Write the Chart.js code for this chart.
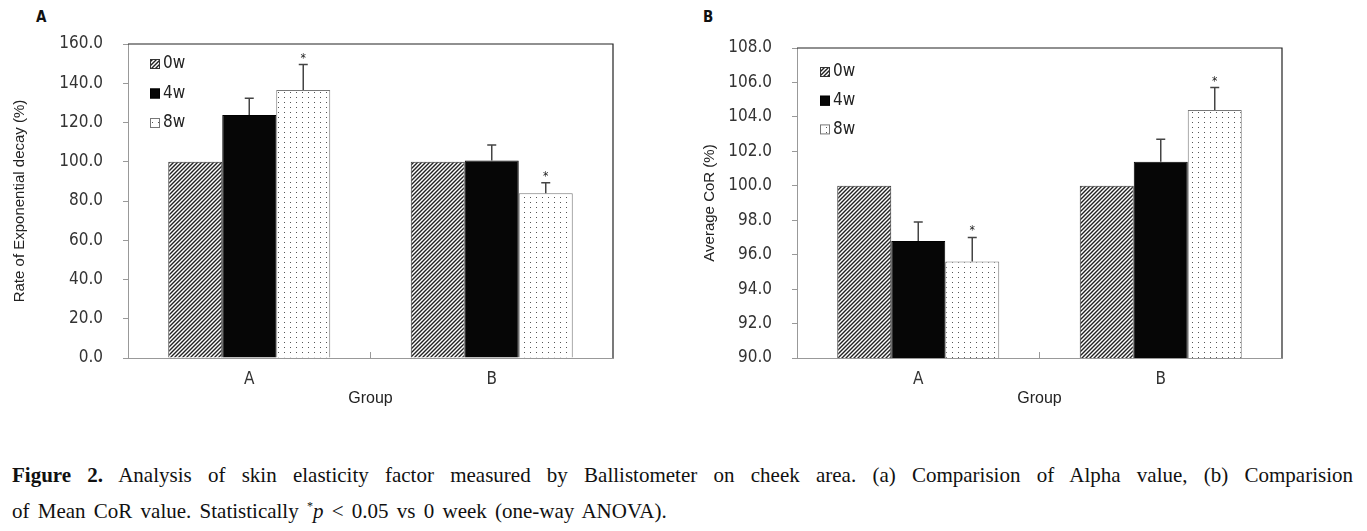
<!DOCTYPE html>
<html>
<head>
<meta charset="utf-8">
<title>Figure 2</title>
<script src="https://cdn.jsdelivr.net/npm/chart.js@4.4.1/dist/chart.umd.min.js"></script>
<style>
	body { margin: 0; background: #fff; width: 1367px; height: 531px; position: relative; overflow: hidden; }
	canvas { position: absolute; top: 0; }
	#chartA { left: 0; }
	#chartB { left: 680px; }
	.panel { position: absolute; top: 8px; font: bold 15px "DejaVu Sans Condensed", "DejaVu Sans", sans-serif; color: #111; }
	.caption { position: absolute; left: 12px; width: 1341px; font-family: "Liberation Serif", "Times New Roman", serif; font-size: 21px; color: #111; white-space: nowrap; }
	.line1 { top: 463px; text-align: justify; text-align-last: justify; white-space: normal; }
	.line2 { top: 499px; word-spacing: 3px; }
</style>
</head>
<body>
<div class="panel" style="left:36px">A</div>
<div class="panel" style="left:703px">B</div>
<canvas id="chartA" width="640" height="420"></canvas>
<canvas id="chartB" width="687" height="420"></canvas>
<div class="caption line1"><b>Figure 2.</b> Analysis of skin elasticity factor measured by Ballistometer on cheek area. (a) Comparision of Alpha value, (b) Comparision</div>
<div class="caption line2">of Mean CoR value. Statistically <sup style="font-size:12px">*</sup><i>p</i> &lt; 0.05 vs 0 week (one-way ANOVA).</div>

<script>
//	Data
var groups = ['A', 'B'];
var weekLabels = ['0w', '4w', '8w'];

// panel A : rate of exponential decay (%)
var decay0w = [100.0, 100.0];
var decay4w = [123.8, 100.7];
var decay8w = [136.6, 83.9];
var decayErr0w = [0, 0];
var decayErr4w = [8.5, 7.8];
var decayErr8w = [12.9, 5.4];
var decayStar8w = [true, true];
var decayTicks = { min: 0, max: 160, step: 20 };

// panel B : average CoR (%)
var cor0w = [100.0, 100.0];
var cor4w = [96.8, 101.4];
var cor8w = [95.6, 104.4];
var corErr0w = [0, 0];
var corErr4w = [1.1, 1.3];
var corErr8w = [1.4, 1.3];
var corStar8w = [true, true];
var corTicks = { min: 90, max: 108, step: 2 };

//	Fonts
var tickFont = '"DejaVu Sans Condensed", "DejaVu Sans", sans-serif';
var titleFont = '"Liberation Sans", Arial, sans-serif';

//	Fill patterns (hatched / solid / dotted)
var makeHatch = function () {
	var c = document.createElement('canvas');
	c.width = 4; c.height = 4;
	var g = c.getContext('2d');
	g.fillStyle = '#fff';
	g.fillRect(0, 0, 4, 4);
	g.strokeStyle = '#222';
	g.lineWidth = 1.4;
	g.beginPath();
	g.moveTo(0, 4); g.lineTo(4, 0);
	g.moveTo(-1, 1); g.lineTo(1, -1);
	g.moveTo(3, 5); g.lineTo(5, 3);
	g.stroke();
	return g.createPattern(c, 'repeat');
};
var makeDots = function () {
	var c = document.createElement('canvas');
	c.width = 6; c.height = 5;
	var g = c.getContext('2d');
	g.fillStyle = '#fff';
	g.fillRect(0, 0, 6, 5);
	g.fillStyle = '#555';
	g.fillRect(2, 2, 1, 1);
	return g.createPattern(c, 'repeat');
};
var hatchFill = makeHatch();
var dotFill = makeDots();

var barStyles = [
	{ bg: hatchFill, border: '#333' },
	{ bg: '#060606', border: '#000' },
	{ bg: dotFill, border: '#777' }
];

//	Plugins
// up-only error bars + significance stars
var errorBars = {
	id: 'errorBars',
	afterDatasetsDraw: function (chart) {
		var ctx = chart.ctx;
		var yScale = chart.scales.y;
		ctx.save();
		chart.data.datasets.forEach(function (ds, i) {
			var meta = chart.getDatasetMeta(i);
			meta.data.forEach(function (bar, j) {
				var err = ds.errorUp[j];
				var topPx = yScale.getPixelForValue(ds.data[j] + err);
				if (err > 0) {
					ctx.strokeStyle = '#444';
					ctx.lineWidth = 1.5;
					ctx.beginPath();
					ctx.moveTo(bar.x, bar.y);
					ctx.lineTo(bar.x, topPx);
					ctx.moveTo(bar.x - 4.5, topPx);
					ctx.lineTo(bar.x + 4.5, topPx);
					ctx.stroke();
				}
				if (ds.starred && ds.starred[j]) {
					ctx.fillStyle = '#222';
					ctx.font = '12px ' + tickFont;
					ctx.textAlign = 'center';
					ctx.textBaseline = 'alphabetic';
					ctx.fillText('*', bar.x, topPx - 3);
				}
			});
		});
		ctx.restore();
	}
};

// top/right frame and the inside tick between groups
var plotFrame = {
	id: 'plotFrame',
	afterDraw: function (chart) {
		var ctx = chart.ctx, a = chart.chartArea, x = chart.scales.x;
		ctx.save();
		ctx.strokeStyle = '#222';
		ctx.lineWidth = 1.2;
		ctx.beginPath();
		ctx.moveTo(a.left, a.top);
		ctx.lineTo(a.right, a.top);
		ctx.lineTo(a.right, a.bottom);
		ctx.stroke();
		var mid = (x.getPixelForValue(0) + x.getPixelForValue(1)) / 2;
		ctx.strokeStyle = '#999';
		ctx.lineWidth = 1;
		ctx.beginPath();
		ctx.moveTo(mid, a.bottom);
		ctx.lineTo(mid, a.bottom - 6);
		ctx.stroke();
		ctx.restore();
	}
};

// legend drawn inside the plot, top-left
var boxLegend = {
	id: 'boxLegend',
	afterDraw: function (chart, args, opts) {
		var ctx = chart.ctx, a = chart.chartArea;
		ctx.save();
		ctx.font = '17px ' + tickFont;
		ctx.textBaseline = 'middle';
		ctx.textAlign = 'left';
		chart.data.datasets.forEach(function (ds, i) {
			var x = a.left + opts.x;
			var y = a.top + opts.y + i * opts.gap;
			ctx.fillStyle = ds.backgroundColor;
			ctx.fillRect(x, y - 5, 10, 10);
			ctx.strokeStyle = ds.borderColor;
			ctx.lineWidth = 1;
			ctx.strokeRect(x + 0.5, y - 4.5, 9, 9);
			ctx.fillStyle = '#222';
			ctx.fillText(ds.label, x + 13, y);
		});
		ctx.restore();
	}
};

//	Chart builder
var buildDatasets = function (series, errors, stars) {
	return series.map(function (values, i) {
		return {
			label: weekLabels[i],
			data: values,
			errorUp: errors[i],
			starred: stars[i],
			backgroundColor: barStyles[i].bg,
			borderColor: barStyles[i].border,
			borderWidth: 1,
			categoryPercentage: 0.668,
			barPercentage: 1.0
		};
	});
};

var buildChart = function (canvasId, setup) {
	return new Chart(document.getElementById(canvasId), {
		type: 'bar',
		data: {
			labels: groups,
			datasets: buildDatasets(setup.series, setup.errors, setup.stars)
		},
		options: {
			responsive: false,
			animation: false,
			layout: { padding: { top: setup.padTop, right: setup.padRight, left: 0, bottom: 0 } },
			scales: {
				x: {
					grid: { display: false, drawTicks: false },
					border: { display: true, color: '#999', width: 1 },
					ticks: { color: '#333', font: { family: tickFont, size: 17 }, padding: 11 },
					title: {
						display: true,
						text: 'Group',
						color: '#222',
						font: { family: titleFont, size: 16 },
						padding: { top: 0, bottom: 12 }
					},
					afterFit: function (scale) { scale.height = 62; }
				},
				y: {
					min: setup.ticks.min,
					max: setup.ticks.max,
					grid: { drawOnChartArea: false, tickLength: 5, color: '#999' },
					border: { display: true, color: '#999', width: 1 },
					ticks: {
						stepSize: setup.ticks.step,
						color: '#333',
						padding: 20,
						font: { family: tickFont, size: 17 },
						callback: function (v) { return Number(v).toFixed(1); }
					},
					title: {
						display: true,
						text: setup.yTitle,
						color: '#222',
						font: { family: titleFont, size: 15 },
						padding: { top: setup.titlePad, bottom: 0 }
					},
					afterFit: function (scale) { scale.width = setup.yWidth; }
				}
			},
			plugins: {
				legend: { display: false },
				tooltip: { enabled: false },
				boxLegend: setup.legend
			}
		},
		plugins: [errorBars, plotFrame, boxLegend]
	});
};

var chartA = buildChart('chartA', {
	series: [decay0w, decay4w, decay8w],
	errors: [decayErr0w, decayErr4w, decayErr8w],
	stars: [null, null, decayStar8w],
	ticks: decayTicks,
	yTitle: 'Rate of Exponential decay (%)',
	padTop: 44,
	padRight: 27,
	yWidth: 128,
	titlePad: 11,
	legend: { x: 22, y: 20, gap: 29.5 }
});

var chartB = buildChart('chartB', {
	series: [cor0w, cor4w, cor8w],
	errors: [corErr0w, corErr4w, corErr8w],
	stars: [null, null, corStar8w],
	ticks: corTicks,
	yTitle: 'Average CoR (%)',
	padTop: 48,
	padRight: 85,
	yWidth: 117,
	titlePad: 21,
	legend: { x: 23, y: 24, gap: 28.7 }
});
</script>
</body>
</html>
